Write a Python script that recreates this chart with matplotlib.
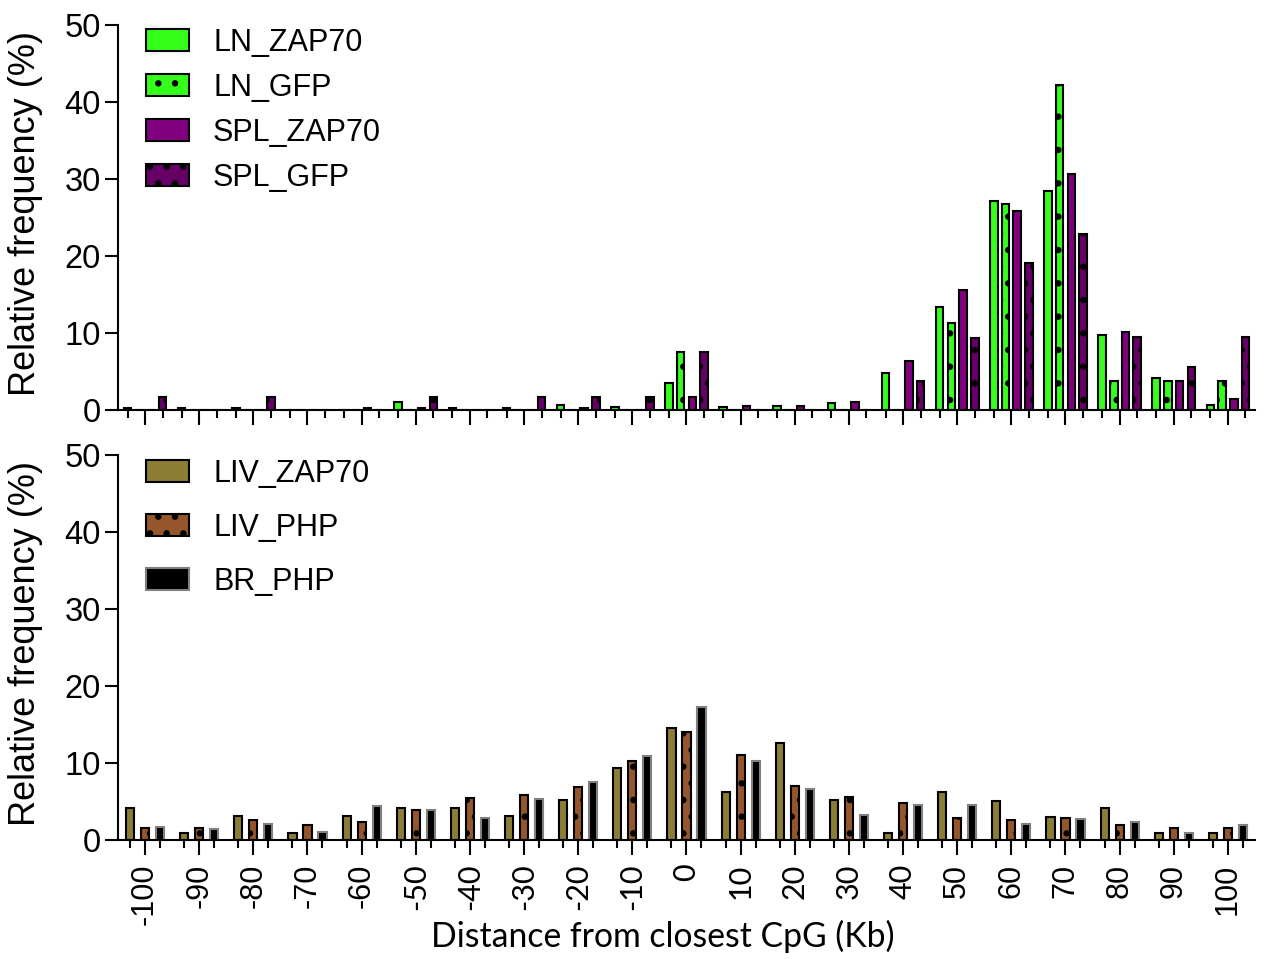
import matplotlib
matplotlib.use('Agg')
import matplotlib.pyplot as plt
import numpy as np

plt.rcParams['font.family'] = ['Liberation Sans', 'DejaVu Sans']
plt.rcParams['hatch.linewidth'] = 2.2

# distance bins (Kb)
bins = [-100, -90, -80, -70, -60, -50, -40, -30, -20, -10, 0,
        10, 20, 30, 40, 50, 60, 70, 80, 90, 100]

# top panel: lymph node / spleen
ln_zap70 = [0.2, 0.2, 0.2, 0, 0, 1.1, 0.2, 0.3, 0.6, 0.4, 3.5,
            0.4, 0.5, 0.9, 4.8, 13.4, 27.2, 28.4, 9.8, 4.2, 0.65]
ln_gfp = [0, 0, 0, 0, 0, 0, 0, 0, 0, 0, 7.5,
          0, 0, 0, 0, 11.3, 26.8, 42.2, 3.7, 3.7, 3.7]
spl_zap70 = [0, 0, 0, 0, 0.2, 0.2, 0, 0, 0.2, 0, 1.7,
             0.5, 0.5, 1.1, 6.3, 15.6, 25.8, 30.6, 10.1, 3.7, 1.4]
spl_gfp = [1.7, 0, 1.7, 0, 0, 1.7, 0, 1.7, 1.7, 1.7, 7.5,
           0, 0, 0, 3.7, 9.4, 19.1, 22.9, 9.5, 5.6, 9.5]

# bottom panel: liver / brain
liv_zap70 = [4.2, 0.9, 3.1, 0.9, 3.1, 4.1, 4.1, 3.1, 5.2, 9.4, 14.6,
             6.2, 12.6, 5.2, 0.9, 6.2, 5.1, 3.0, 4.1, 0.9, 0.9]
liv_php = [1.6, 1.5, 2.6, 1.9, 2.4, 3.9, 5.4, 5.8, 6.9, 10.2, 14.0,
           11.0, 7.0, 5.6, 4.8, 2.9, 2.6, 2.8, 1.9, 1.6, 1.5]
br_php = [1.7, 1.4, 2.1, 1.0, 4.4, 3.9, 2.8, 5.3, 7.5, 10.9, 17.3,
          10.2, 6.6, 3.2, 4.5, 4.5, 2.1, 2.7, 2.3, 0.95, 1.9]

top_series = [('LN_ZAP70', ln_zap70, '#33FF1A', 'black', None),
              ('LN_GFP', ln_gfp, '#33FF1A', 'black', '.'),
              ('SPL_ZAP70', spl_zap70, '#800080', 'black', None),
              ('SPL_GFP', spl_gfp, '#660066', 'black', '.')]
bot_series = [('LIV_ZAP70', liv_zap70, '#8C7D35', 'black', None),
              ('LIV_PHP', liv_php, '#94562A', 'black', '.'),
              ('BR_PHP', br_php, '#000000', '#808080', None)]

fig = plt.figure(figsize=(12.66, 9.59), dpi=100)
ax1 = fig.add_axes([0.0932, 0.5725, 0.8981, 0.4014])
ax2 = fig.add_axes([0.0932, 0.1241, 0.8981, 0.4014])

x = np.arange(len(bins))


def draw(ax, series, step, width, legend_top, spacing):
    n = len(series)
    offs = (np.arange(n) - (n - 1) / 2) * step
    for (name, vals, fc, ec, hatch), o in zip(series, offs):
        ax.bar(x + o, vals, width, color=fc, edgecolor=ec, linewidth=1.5,
               hatch=hatch, label=name, zorder=2)
    ax.set_xlim(-0.5, 20.5)
    ax.set_ylim(0, 50)
    ax.set_yticks([0, 10, 20, 30, 40, 50])
    ax.set_xticks(x)
    ax.set_xticks(np.concatenate([x + offs[0], x + offs[-1]]), minor=True)
    for s in ['top', 'right']:
        ax.spines[s].set_visible(False)
    for s in ['left', 'bottom']:
        ax.spines[s].set_linewidth(1.5)
    ax.tick_params(axis='y', labelsize=23.5, length=9.5, width=1.5, pad=3)
    ax.tick_params(axis='x', which='major', length=11, width=1.5)
    ax.tick_params(axis='x', which='minor', length=5.5, width=1.5)
    ax.set_ylabel('Relative frequency (%)', fontsize=26)
    ax.yaxis.set_label_coords(-0.066, 0.51)
    ax.legend(loc='upper left', bbox_to_anchor=(0.025, legend_top),
              frameon=False, fontsize=22, handlelength=1.4,
              handleheight=0.7, handletextpad=0.78, labelspacing=spacing,
              borderpad=0, borderaxespad=0)


draw(ax1, top_series, 0.216, 0.14, 0.993, 0.49)
draw(ax2, bot_series, 0.277, 0.15, 0.991, 0.79)

ax1.set_xticklabels([])
ax2.set_xticklabels([str(b) for b in bins], rotation=90, fontsize=22)
ax2.tick_params(axis='x', which='major', pad=6)
# the middle labels use a different face in the original
for lab, b in zip(ax2.get_xticklabels(), bins):
    if -50 <= b <= 40:
        lab.set_fontfamily(['Lato', 'DejaVu Sans'])

fig.text(663 / 1266, 1 - 936 / 959, 'Distance from closest CpG (Kb)',
         fontsize=24.3, family=['Lato', 'DejaVu Sans'], ha='center', va='center')

fig.savefig('out.png', dpi=100)
